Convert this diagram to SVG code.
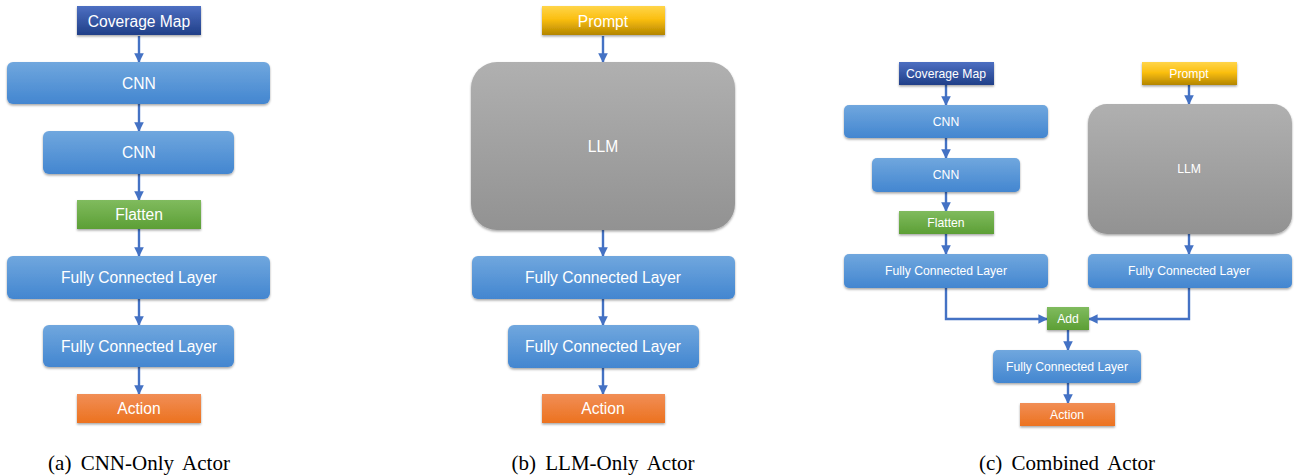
<svg xmlns="http://www.w3.org/2000/svg" width="1303" height="476" viewBox="0 0 1303 476">
<style>
.t{font-family:"Liberation Sans",Arial,sans-serif;fill:#ffffff;text-anchor:middle;dominant-baseline:central}
.a{font-size:15.6px}
.c{font-size:12.2px}
.cap{font-family:"Liberation Serif","Times New Roman",serif;font-size:21px;word-spacing:4px;fill:#000;text-anchor:middle}
.ln{fill:none;stroke:#4472C4;stroke-width:2.4}
.ar{marker-end:url(#ah)}
</style>
<defs>
<linearGradient id="gBlue" x1="0" y1="0" x2="0" y2="1"><stop offset="0" stop-color="#70a7de"/><stop offset="1" stop-color="#4386d0"/></linearGradient>
<linearGradient id="gDark" x1="0" y1="0" x2="0" y2="1"><stop offset="0" stop-color="#4d6fc2"/><stop offset="1" stop-color="#203f88"/></linearGradient>
<linearGradient id="gGreen" x1="0" y1="0" x2="0" y2="1"><stop offset="0" stop-color="#80bb5e"/><stop offset="1" stop-color="#5c9f35"/></linearGradient>
<linearGradient id="gOrange" x1="0" y1="0" x2="0" y2="1"><stop offset="0" stop-color="#f18e56"/><stop offset="1" stop-color="#ec721f"/></linearGradient>
<linearGradient id="gYellow" x1="0" y1="0" x2="0" y2="1"><stop offset="0" stop-color="#ffd54a"/><stop offset="0.45" stop-color="#fbbf10"/><stop offset="1" stop-color="#b38500"/></linearGradient>
<linearGradient id="gGray" x1="0" y1="0" x2="0" y2="1"><stop offset="0" stop-color="#b0b0b0"/><stop offset="1" stop-color="#929292"/></linearGradient>
<filter id="sh" x="-10%" y="-20%" width="120%" height="150%"><feDropShadow dx="0" dy="1.5" stdDeviation="1.2" flood-color="#000" flood-opacity="0.35"/></filter>
<marker id="ah" viewBox="0 0 10 10" refX="9" refY="5" markerWidth="4" markerHeight="4" orient="auto" markerUnits="strokeWidth"><path d="M0,0 L10,5 L0,10 z" fill="#4472C4"/></marker>
</defs>

<g id="connectors">
<!-- panel a -->
<line class="ln ar" x1="139" y1="36" x2="139" y2="62"/>
<line class="ln ar" x1="139" y1="104" x2="139" y2="131"/>
<line class="ln ar" x1="139" y1="174" x2="139" y2="200"/>
<line class="ln ar" x1="139" y1="229" x2="139" y2="256"/>
<line class="ln ar" x1="139" y1="299" x2="139" y2="325"/>
<line class="ln ar" x1="139" y1="367" x2="139" y2="394"/>
<!-- panel b -->
<line class="ln ar" x1="603" y1="36" x2="603" y2="62"/>
<line class="ln ar" x1="603" y1="230" x2="603" y2="256"/>
<line class="ln ar" x1="603" y1="299" x2="603" y2="325"/>
<line class="ln ar" x1="603" y1="368" x2="603" y2="394"/>
<!-- panel c -->
<line class="ln ar" x1="946" y1="85" x2="946" y2="105"/>
<line class="ln ar" x1="946" y1="138" x2="946" y2="158"/>
<line class="ln ar" x1="946" y1="192" x2="946" y2="211"/>
<line class="ln ar" x1="946" y1="234" x2="946" y2="254"/>
<line class="ln ar" x1="1189" y1="85" x2="1189" y2="104"/>
<line class="ln ar" x1="1189" y1="234" x2="1189" y2="254"/>
<polyline class="ln ar" points="946,288 946,319 1047,319"/>
<polyline class="ln ar" points="1189,288 1189,319 1089,319"/>
<line class="ln ar" x1="1068" y1="330" x2="1068" y2="350"/>
<line class="ln ar" x1="1068" y1="383" x2="1068" y2="403"/>
</g>

<!-- panel a -->
<g id="a-coverage"><rect x="77" y="6" width="124" height="29" fill="url(#gDark)" filter="url(#sh)"/><text class="t a" x="139" y="21">Coverage Map</text></g>
<g id="a-cnn1"><rect x="7" y="62" width="263" height="42" rx="6" fill="url(#gBlue)" filter="url(#sh)"/><text class="t a" x="139" y="83">CNN</text></g>
<g id="a-cnn2"><rect x="43" y="131" width="191" height="43" rx="6" fill="url(#gBlue)" filter="url(#sh)"/><text class="t a" x="139" y="152.5">CNN</text></g>
<g id="a-flatten"><rect x="77" y="200" width="124" height="29" fill="url(#gGreen)" filter="url(#sh)"/><text class="t a" x="139" y="214.5">Flatten</text></g>
<g id="a-fc1"><rect x="7" y="256" width="263" height="43" rx="6" fill="url(#gBlue)" filter="url(#sh)"/><text class="t a" x="139" y="277.5">Fully Connected Layer</text></g>
<g id="a-fc2"><rect x="43" y="325" width="191" height="42" rx="6" fill="url(#gBlue)" filter="url(#sh)"/><text class="t a" x="139" y="346">Fully Connected Layer</text></g>
<g id="a-action"><rect x="77" y="394" width="124" height="29" fill="url(#gOrange)" filter="url(#sh)"/><text class="t a" x="139" y="408.5">Action</text></g>

<!-- panel b -->
<g id="b-prompt"><rect x="542" y="6" width="123" height="29" fill="url(#gYellow)" filter="url(#sh)"/><text class="t a" x="603" y="21">Prompt</text></g>
<g id="b-llm"><rect x="471" y="62" width="264" height="168" rx="26" fill="url(#gGray)" filter="url(#sh)"/><text class="t a" x="603" y="146">LLM</text></g>
<g id="b-fc1"><rect x="472" y="256" width="263" height="43" rx="6" fill="url(#gBlue)" filter="url(#sh)"/><text class="t a" x="603" y="277.5">Fully Connected Layer</text></g>
<g id="b-fc2"><rect x="508" y="325" width="191" height="43" rx="6" fill="url(#gBlue)" filter="url(#sh)"/><text class="t a" x="603" y="346.5">Fully Connected Layer</text></g>
<g id="b-action"><rect x="542" y="394" width="123" height="29" fill="url(#gOrange)" filter="url(#sh)"/><text class="t a" x="603" y="408.5">Action</text></g>

<!-- panel c -->
<g id="c-coverage"><rect x="899" y="62" width="95" height="23" fill="url(#gDark)" filter="url(#sh)"/><text class="t c" x="946" y="73.5">Coverage Map</text></g>
<g id="c-cnn1"><rect x="844" y="105" width="204" height="33" rx="5" fill="url(#gBlue)" filter="url(#sh)"/><text class="t c" x="946" y="121.5">CNN</text></g>
<g id="c-cnn2"><rect x="872" y="158" width="148" height="34" rx="5" fill="url(#gBlue)" filter="url(#sh)"/><text class="t c" x="946" y="175">CNN</text></g>
<g id="c-flatten"><rect x="899" y="211" width="95" height="23" fill="url(#gGreen)" filter="url(#sh)"/><text class="t c" x="946" y="222.5">Flatten</text></g>
<g id="c-fc-left"><rect x="844" y="254" width="204" height="34" rx="5" fill="url(#gBlue)" filter="url(#sh)"/><text class="t c" x="946" y="271">Fully Connected Layer</text></g>
<g id="c-prompt"><rect x="1142" y="62" width="95" height="23" fill="url(#gYellow)" filter="url(#sh)"/><text class="t c" x="1189" y="73.5">Prompt</text></g>
<g id="c-llm"><rect x="1088" y="104" width="204" height="130" rx="19" fill="url(#gGray)" filter="url(#sh)"/><text class="t c" x="1189" y="169">LLM</text></g>
<g id="c-fc-right"><rect x="1088" y="254" width="204" height="34" rx="5" fill="url(#gBlue)" filter="url(#sh)"/><text class="t c" x="1189" y="271">Fully Connected Layer</text></g>
<g id="c-add"><rect x="1047" y="307" width="42" height="23" fill="url(#gGreen)" filter="url(#sh)"/><text class="t c" x="1068" y="318.5">Add</text></g>
<g id="c-fc"><rect x="993" y="350" width="148" height="33" rx="5" fill="url(#gBlue)" filter="url(#sh)"/><text class="t c" x="1067" y="366.5">Fully Connected Layer</text></g>
<g id="c-action"><rect x="1020" y="403" width="95" height="23" fill="url(#gOrange)" filter="url(#sh)"/><text class="t c" x="1067" y="414.5">Action</text></g>

<g id="captions">
<text class="cap" x="139" y="470">(a) CNN-Only Actor</text>
<text class="cap" x="603" y="470">(b) LLM-Only Actor</text>
<text class="cap" x="1067" y="470">(c) Combined Actor</text>
</g>
</svg>
